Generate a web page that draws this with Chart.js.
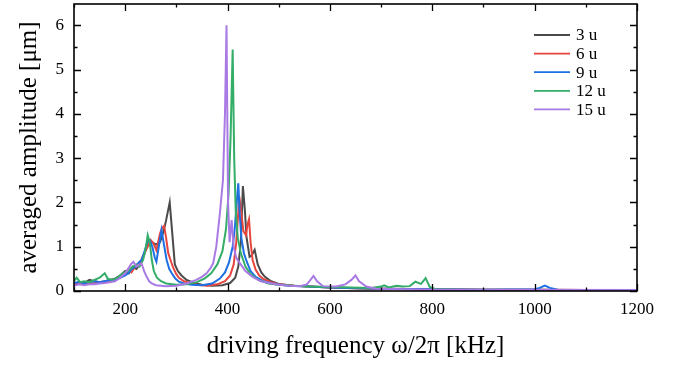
<!DOCTYPE html>
<html><head><meta charset="utf-8">
<script src="https://cdn.jsdelivr.net/npm/chart.js@4.4.0/dist/chart.umd.min.js"></script>
<style>html,body{margin:0;padding:0;background:#fff;overflow:hidden}#wrap{width:681px;height:367px}</style>
</head><body><div id="wrap"><canvas id="c" width="681" height="367"></canvas></div>
<script>
const seriesLabels = ['3 u', '6 u', '9 u', '12 u', '15 u'];

const freq3 = [100,110,120,130,140,150,160,170,180,190,200,207,215,222,230,238,245,250,260,268,275,280,287,292,297,303,310,320,335,350,370,390,405,415,421,426,430,434,437,443,447,453,459,466,473,485,500,530,560,600,650,700,800,900,1000,1100,1200];
const amp3  = [0.17,0.2,0.18,0.25,0.22,0.2,0.22,0.25,0.28,0.35,0.45,0.4,0.55,0.5,0.62,0.85,1.15,1.12,1.05,1.1,1.35,1.6,2.0,1.3,0.6,0.45,0.35,0.25,0.18,0.14,0.12,0.13,0.18,0.3,0.55,1.1,2.37,1.8,1.22,0.77,0.8,0.93,0.6,0.42,0.32,0.22,0.16,0.12,0.1,0.08,0.06,0.05,0.04,0.03,0.03,0.02,0.02];

const freq6 = [100,110,120,130,140,150,160,170,180,190,200,206,212,220,228,235,242,250,255,261,268,272,276,280,284,290,294,300,305,315,325,340,360,380,395,405,412,417,420,423,427,431,436,439,442,445,449,455,462,470,485,500,530,560,600,650,700,800,900,1000,1100,1200];
const amp6  = [0.15,0.17,0.15,0.18,0.17,0.2,0.2,0.22,0.25,0.3,0.38,0.5,0.42,0.55,0.6,0.8,0.95,1.15,1.08,0.92,1.3,1.42,1.47,1.2,0.86,0.65,0.52,0.38,0.3,0.22,0.18,0.14,0.12,0.15,0.22,0.35,0.6,1.1,1.6,2.13,1.75,1.35,1.26,1.5,1.62,1.1,0.7,0.48,0.35,0.27,0.2,0.15,0.12,0.1,0.08,0.06,0.05,0.04,0.03,0.03,0.02,0.02];

const freq9 = [100,110,120,130,140,150,160,170,180,190,200,206,213,220,228,232,238,243,248,253,258,261,265,271,275,281,286,291,298,305,315,330,350,370,385,395,403,410,414,418,421,424,427,432,438,445,455,470,490,520,560,600,700,800,900,1000,1010,1020,1030,1045,1100,1200];
const amp9  = [0.18,0.2,0.17,0.2,0.22,0.2,0.22,0.25,0.25,0.3,0.35,0.4,0.5,0.55,0.66,0.7,0.9,1.1,1.15,1.0,0.75,0.66,0.95,1.38,1.1,0.7,0.5,0.4,0.28,0.21,0.17,0.14,0.13,0.17,0.28,0.42,0.65,1.0,1.4,2.0,2.43,1.7,1.2,0.85,0.65,0.45,0.32,0.22,0.16,0.12,0.1,0.08,0.05,0.04,0.03,0.04,0.07,0.12,0.07,0.03,0.02,0.02];

const freq12 = [100,105,112,120,130,140,150,160,166,175,185,195,205,215,222,228,235,240,244,248,252,256,262,270,280,300,320,340,355,368,380,390,397,402,406,410,413,416,420,426,435,445,460,480,500,530,560,600,640,680,700,706,715,730,743,756,767,778,787,795,807,850,1000,1200];
const amp12  = [0.22,0.3,0.2,0.22,0.2,0.25,0.3,0.4,0.28,0.25,0.3,0.4,0.45,0.55,0.6,0.55,0.7,0.95,1.26,1.1,0.7,0.45,0.3,0.22,0.17,0.14,0.15,0.2,0.28,0.4,0.6,0.9,1.4,2.2,3.5,5.45,3.0,1.8,1.2,0.85,0.55,0.38,0.25,0.17,0.14,0.12,0.1,0.09,0.08,0.07,0.1,0.13,0.08,0.12,0.1,0.11,0.21,0.16,0.29,0.09,0.04,0.03,0.02,0.02];

const freq15 = [100,110,120,130,140,150,160,170,180,190,200,206,211,216,222,228,232,237,242,247,252,260,280,300,320,339,350,359,367,372,378,385,391,395,398,401,404,408,412,417,424,435,449,465,482,500,520,541,555,562,568,575,586,612,630,642,650,657,671,690,750,800,900,1200];
const amp15  = [0.12,0.15,0.13,0.15,0.15,0.17,0.18,0.2,0.22,0.3,0.4,0.5,0.6,0.66,0.55,0.6,0.62,0.45,0.32,0.22,0.17,0.13,0.11,0.12,0.17,0.25,0.32,0.4,0.52,0.63,1.0,1.75,2.5,4.0,6.0,2.0,1.1,1.6,1.0,0.75,0.63,0.45,0.32,0.22,0.18,0.14,0.12,0.11,0.15,0.25,0.34,0.22,0.11,0.1,0.15,0.25,0.35,0.22,0.1,0.05,0.04,0.03,0.03,0.02];

const xMajorTicks = [200, 400, 600, 800, 1000, 1200];
const xMinorTicks = [100, 300, 500, 700, 900, 1100];
const yMajorTicks = [0, 1, 2, 3, 4, 5, 6];
const yMinorTicks = [0.5, 1.5, 2.5, 3.5, 4.5, 5.5];

const colors = ['#4a4a4a', '#e8453f', '#1d6fe3', '#33ad68', '#a97ae4'];
const seriesFreq = [freq3, freq6, freq9, freq12, freq15];
const seriesAmp = [amp3, amp6, amp9, amp12, amp15];

const SERIF = '"Liberation Serif", "DejaVu Serif", serif';

const datasets = seriesLabels.map((lab, i) => ({
  label: lab,
  data: seriesFreq[i].map((f, k) => ({x: f, y: seriesAmp[i][k]})),
  borderColor: colors[i],
  backgroundColor: colors[i],
  borderWidth: 2,
  pointRadius: 0,
  tension: 0,
  order: 4 - i
}));

const frameTicks = {
  id: 'frameTicks',
  afterDatasetsDraw(chart) {
    const {ctx, chartArea: {left, right, top, bottom}, scales: {x, y}} = chart;
    ctx.save();
    ctx.strokeStyle = '#000';
    ctx.lineWidth = 1.6;
    ctx.strokeRect(left, top, right - left, bottom - top);
    ctx.lineWidth = 1.3;
    ctx.beginPath();
    const tick = (arr, len) => {
      arr.forEach(v => {
        const px = Math.round(x.getPixelForValue(v)) + 0.5;
        ctx.moveTo(px, bottom); ctx.lineTo(px, bottom - len);
        ctx.moveTo(px, top); ctx.lineTo(px, top + len);
      });
    };
    const tickY = (arr, len) => {
      arr.forEach(v => {
        const py = Math.round(y.getPixelForValue(v)) + 0.5;
        ctx.moveTo(left, py); ctx.lineTo(left + len, py);
        ctx.moveTo(right, py); ctx.lineTo(right - len, py);
      });
    };
    tick(xMajorTicks, 7); tick(xMinorTicks, 3.5);
    tickY(yMajorTicks, 7); tickY(yMinorTicks, 3.5);
    ctx.stroke();
    ctx.restore();
  }
};

const customLegend = {
  id: 'customLegend',
  afterDraw(chart) {
    const {ctx} = chart;
    ctx.save();
    ctx.font = '17px ' + SERIF;
    ctx.textBaseline = 'middle';
    ctx.textAlign = 'left';
    chart.data.datasets.forEach((ds, i) => {
      const yy = 35 + i * 18.6;
      ctx.strokeStyle = ds.borderColor;
      ctx.lineWidth = 1.8;
      ctx.beginPath(); ctx.moveTo(534, yy); ctx.lineTo(570, yy); ctx.stroke();
      ctx.fillStyle = '#000';
      ctx.fillText(ds.label, 576, yy + 1);
    });
    ctx.restore();
  }
};

new Chart(document.getElementById('c'), {
  type: 'line',
  data: {datasets},
  options: {
    responsive: false,
    animation: false,
    devicePixelRatio: 1,
    layout: {padding: {top: 4, right: 44, left: 0, bottom: 0}},
    plugins: {legend: {display: false}, tooltip: {enabled: false}},
    scales: {
      x: {
        type: 'linear', min: 100, max: 1200,
        grid: {display: false, drawTicks: false},
        border: {display: false},
        afterBuildTicks: s => { s.ticks = xMajorTicks.map(v => ({value: v})); },
        afterFit: s => { s.height = 76; s.paddingLeft = 0; s.paddingRight = 0; },
        ticks: {font: {family: SERIF, size: 17}, color: '#000', padding: 8, maxRotation: 0, callback: v => String(v)},
        title: {display: true, text: 'driving frequency ω/2π [kHz]', font: {family: SERIF, size: 25}, color: '#000', padding: {top: 0, bottom: 6}}
      },
      y: {
        type: 'linear', min: 0, max: 6.48,
        grid: {display: false, drawTicks: false},
        border: {display: false},
        afterBuildTicks: s => { s.ticks = yMajorTicks.map(v => ({value: v})); },
        afterFit: s => { s.width = 74; s.paddingTop = 0; s.paddingBottom = 0; },
        ticks: {font: {family: SERIF, size: 17}, color: '#000', padding: 10, callback: v => String(v)},
        title: {display: true, text: 'averaged amplitude [μm]', font: {family: SERIF, size: 25}, color: '#000', padding: {top: 14, bottom: 0}}
      }
    }
  },
  plugins: [frameTicks, customLegend]
});
</script></body></html>
